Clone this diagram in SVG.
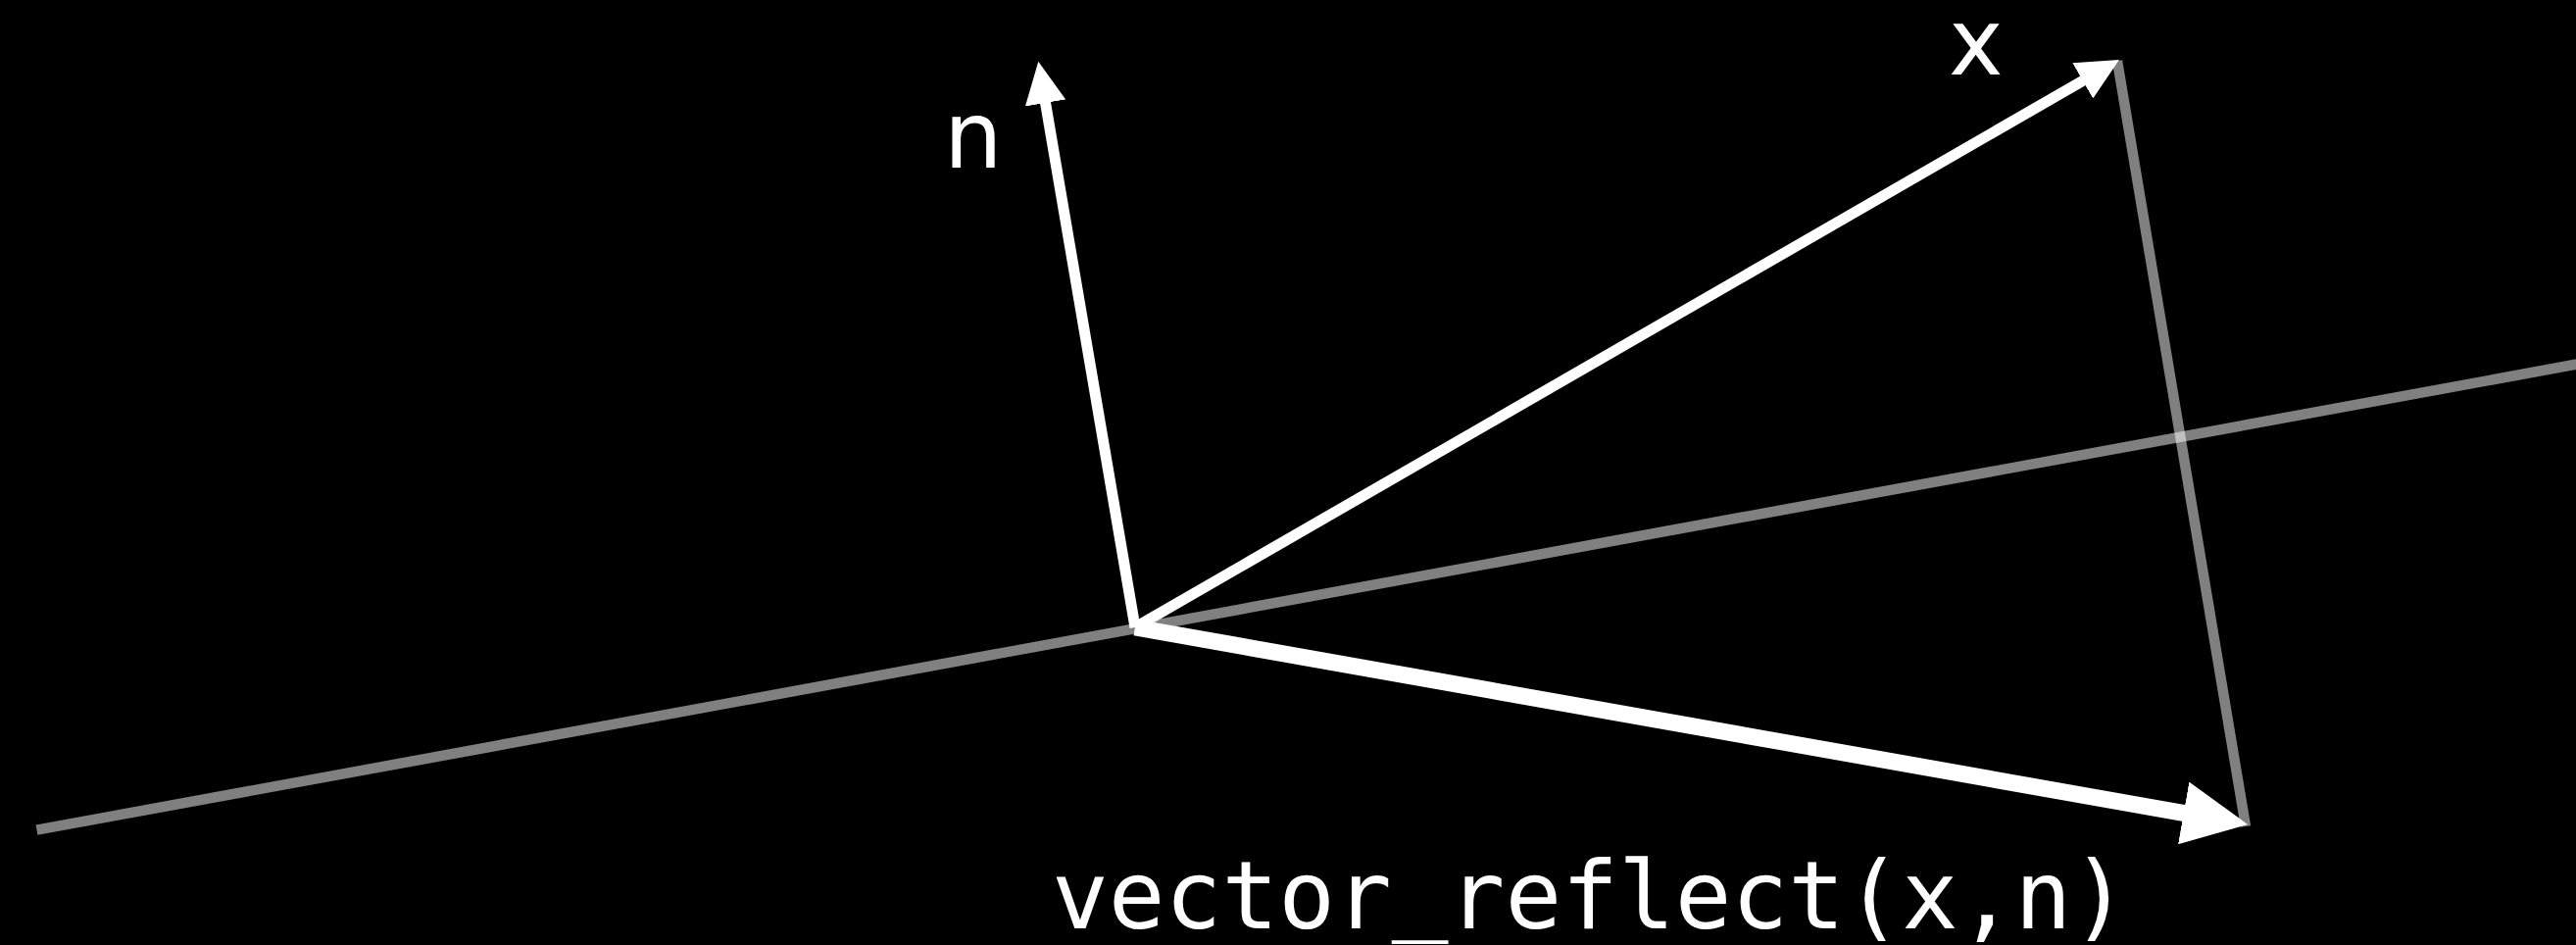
<svg xmlns="http://www.w3.org/2000/svg" width="2628" height="964" viewBox="0 0 2628 964">
  <style>
    .guide { stroke: #ffffff; stroke-opacity: 0.5; stroke-width: 10.5; fill: none; stroke-linecap: butt; }
    .vec { stroke: #ffffff; stroke-width: 11; fill: none; stroke-linecap: butt; marker-end: url(#head); }
    .vec-thick { stroke-width: 17; }
    .label { fill: #ffffff; font-family: "DejaVu Sans", "Liberation Sans", sans-serif; font-size: 94px; }
    .code { fill: #ffffff; font-family: "DejaVu Sans Mono", "Liberation Mono", monospace; font-size: 96px; }
  </style>
  <defs>
    <marker id="head" viewBox="0 0 39 38" markerWidth="3.9" markerHeight="3.8" refX="4" refY="19" orient="auto" markerUnits="strokeWidth">
      <path d="M0,0 L39,19 L0,38 z" fill="#ffffff"/>
    </marker>
  </defs>
  <rect x="0" y="0" width="2628" height="964" fill="#000000"/>
  <g id="connectors">
    <line id="plane" class="guide" x1="37.5" y1="846.7" x2="2700" y2="358.5"/>
    <line id="projection" class="guide" x1="2160" y1="62" x2="2291" y2="843"/>
    <line id="vec-n" class="vec" x1="1158" y1="640" x2="1065.8" y2="100.65"/>
    <line id="vec-x" class="vec" x1="1158" y1="640" x2="2128.6" y2="80.2"/>
    <line id="vec-reflect" class="vec vec-thick" x1="1158" y1="640" x2="2234.4" y2="830.6"/>
  </g>
  <g id="label-n">
    <text class="label" x="963" y="171">n</text>
  </g>
  <g id="label-x">
    <text class="label" x="1988" y="76">x</text>
  </g>
  <g id="label-reflect">
    <text class="code" x="1073" y="947">vector<tspan dy="-7">_</tspan><tspan dy="7">reflect(x,n)</tspan></text>
  </g>
</svg>
